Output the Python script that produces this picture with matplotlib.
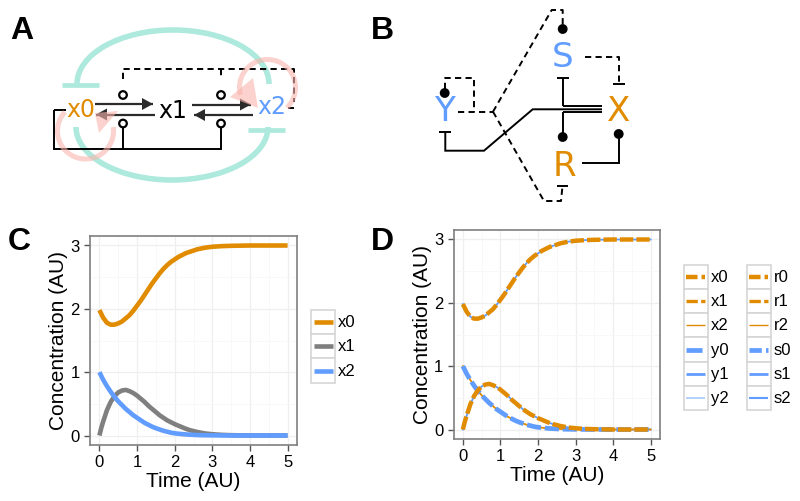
import matplotlib
matplotlib.use("Agg")
import matplotlib.pyplot as plt
from matplotlib.lines import Line2D
from matplotlib.patches import Arc, Circle, Polygon, Rectangle

plt.rcParams['font.family'] = ['Liberation Sans', 'DejaVu Sans']

ORANGE = '#E08B00'
BLUE = '#619CFF'
GREY = '#7F7F7F'
TEAL = '#AEE9DD'
PINK = '#F9B4AC'

time = [0, 0.05, 0.1, 0.2, 0.3, 0.4, 0.5, 0.6, 0.7, 0.8, 0.9, 1, 1.1, 1.2, 1.3, 1.4, 1.5, 1.6, 1.7, 1.8, 1.9, 2,
        2.1, 2.2, 2.3, 2.4, 2.5, 2.6, 2.8, 3, 3.25, 3.5, 4, 4.5, 5]
x0 = [1.98, 1.92, 1.86, 1.78, 1.75, 1.75, 1.77, 1.80, 1.85, 1.90, 1.97, 2.05, 2.13, 2.22, 2.31, 2.40, 2.48, 2.56, 2.63, 2.69, 2.74, 2.78,
      2.82, 2.85, 2.88, 2.90, 2.92, 2.94, 2.965, 2.98, 2.99, 2.995, 3, 3, 3]
x1 = [0, 0.12, 0.22, 0.40, 0.53, 0.62, 0.68, 0.71, 0.72, 0.70, 0.67, 0.63, 0.58, 0.53, 0.47, 0.42, 0.37, 0.32, 0.28, 0.24, 0.21, 0.18,
      0.155, 0.13, 0.105, 0.085, 0.07, 0.055, 0.033, 0.02, 0.01, 0.005, 0, 0, 0]
x2 = [1, 0.94, 0.88, 0.78, 0.69, 0.61, 0.54, 0.48, 0.42, 0.37, 0.32, 0.28, 0.24, 0.20, 0.17, 0.14, 0.115, 0.095, 0.075, 0.06, 0.045, 0.035,
      0.028, 0.022, 0.017, 0.013, 0.01, 0.007, 0.004, 0.002, 0.001, 0, 0, 0, 0]

legend_c = ['x0', 'x1', 'x2']
legend_d1 = ['x0', 'x1', 'x2', 'y0', 'y1', 'y2']
legend_d2 = ['r0', 'r1', 'r2', 's0', 's1', 's2']

# legend key styles for panel D: colour, width, dash
DASH_A = (0, (2.6, 0.9))
DASH_B = (0, (3.4, 1.0, 1.4, 1.0))
keys_d1 = [(ORANGE, 3.2, DASH_A), (ORANGE, 2.4, DASH_B), (ORANGE, 1.0, '-'),
           (BLUE, 3.4, DASH_B), (BLUE, 2.0, '-'), ('#A9C8FF', 1.2, '-')]
keys_d2 = [(ORANGE, 3.2, DASH_A), (ORANGE, 2.4, DASH_B), (ORANGE, 1.0, '-'),
           (BLUE, 3.4, DASH_A), (BLUE, 2.0, '-'), (BLUE, 1.5, '-')]

W, H = 800, 501


def panel(box, ylabel_x):
    # box is left, top, right, bottom in pixels
    l, t, r, b = box
    ax = fig.add_axes([l / W, 1 - b / H, (r - l) / W, (b - t) / H])
    ax.set_xlim(-0.25, 5.25)
    ax.set_ylim(-0.15, 3.15)
    ax.set_xticks(range(6))
    ax.set_yticks(range(4))
    ax.set_xticks([0.5, 1.5, 2.5, 3.5, 4.5], minor=True)
    ax.set_yticks([0.5, 1.5, 2.5], minor=True)
    ax.grid(True, which='major', color='#EFEFEF', lw=0.9)
    ax.grid(True, which='minor', color='#F7F7F7', lw=0.6)
    ax.set_axisbelow(True)
    ax.tick_params(which='minor', length=0)
    ax.tick_params(which='major', length=4.6, width=1, color='#555555', labelsize=12, pad=2.8)
    for s in ax.spines.values():
        s.set_color(GREY)
        s.set_linewidth(1.2)
    ax.set_xlabel('Time (AU)', fontsize=15, va='center')
    ax.set_ylabel('Concentration (AU)', fontsize=15, va='center')
    ax.xaxis.set_label_coords(0.5, -36.5 / (b - t))
    ax.yaxis.set_label_coords((ylabel_x - l) / (r - l), 0.5)
    return ax


def legend_column(labels, styles, left, top, row_h, width):
    for i, (name, st) in enumerate(zip(labels, styles)):
        y = top + i * row_h
        ov.add_patch(Rectangle((left, y), width, row_h, fc='white', ec='#D5D5D5', lw=1.2))
        ov.add_line(Line2D([left + 2.5, left + width - 2.5], [y + row_h / 2] * 2, color=st[0], lw=st[1],
                           ls=st[2], solid_capstyle='butt', dash_capstyle='butt'))
        ov.text(left + width + 3, y + row_h / 2 + 0.5, name, fontsize=12, va='center', ha='left')


def path(xs, ys, dashed=False, lw=1.4):
    ov.plot(xs, ys, color='black', lw=lw, ls=(0, (3.2, 2.2)) if dashed else '-',
            solid_capstyle='butt', dash_capstyle='butt', solid_joinstyle='miter')


def arrow(x_from, x_to, y):
    ov.plot([x_from, x_to], [y, y], color='#2B2B2B', lw=1.6, solid_capstyle='butt')
    d = 1 if x_to > x_from else -1
    ov.add_patch(Polygon([(x_to, y), (x_to - d * 11, y - 6), (x_to - d * 11, y + 6)], fc='#2B2B2B', ec='none'))


def sensor(x, y, filled=False):
    ov.add_patch(Circle((x, y), 3.8, fc='black' if filled else 'white', ec='black', lw=1.6, zorder=5))


fig = plt.figure(figsize=(8, 5.01), dpi=100)

# panel C
ax_c = panel((90, 236, 297, 445), 58.5)
ax_c.plot(time, x0, color=ORANGE, lw=3.3, solid_capstyle='butt')
ax_c.plot(time, x1, color=GREY, lw=3.3, solid_capstyle='butt')
ax_c.plot(time, x2, color=BLUE, lw=3.3, solid_capstyle='butt')

# panel D
ax_d = panel((453.5, 230, 660, 439), 422)
ax_d.plot(time, x0, color=BLUE, lw=1.3)
ax_d.plot(time, x1, color=BLUE, lw=1.3)
ax_d.plot(time, x2, color=ORANGE, lw=1.3)
ax_d.plot(time, x2, color=BLUE, lw=3.4, ls=(0, (3.0, 0.8)), dash_capstyle='butt')
ax_d.plot(time, x0, color=ORANGE, lw=3.2, ls=(0, (3.0, 0.7)), dash_capstyle='butt')
ax_d.plot(time, x1, color=ORANGE, lw=3.2, ls=(0, (3.0, 0.7)), dash_capstyle='butt')

# overlay in pixel coordinates for diagrams and legends
ov = fig.add_axes([0, 0, 1, 1], facecolor='none')
ov.set_xlim(0, W)
ov.set_ylim(H, 0)
ov.axis('off')

legend_column(legend_c, [(ORANGE, 3.3, '-'), (GREY, 3.3, '-'), (BLUE, 3.3, '-')], 311, 309.5, 24.4, 24)
legend_column(legend_d1, keys_d1, 683.7, 264.5, 24.3, 24)
legend_column(legend_d2, keys_d2, 746.7, 264.5, 24.3, 24)

for label, lx, ly in [('A', 10, 31), ('B', 371, 31), ('C', 8, 242), ('D', 371, 242)]:
    ov.text(lx, ly, label, fontsize=23, fontweight='bold', va='center', ha='left')

# panel A diagram
ov.add_patch(Arc((173, 84), 192, 108, theta1=180, theta2=360, ec=TEAL, lw=4))
ov.add_patch(Arc((172, 127), 192, 106, theta1=0, theta2=180, ec=TEAL, lw=4))
ov.plot([62, 99], [85, 85], color=TEAL, lw=3.4, solid_capstyle='butt')
ov.plot([248, 285], [130, 130], color=TEAL, lw=3.4, solid_capstyle='butt')

path([54, 66], [110, 110])
path([54, 54, 221, 221], [110, 149, 149, 127])
path([123, 123], [149, 127])
path([123, 123, 294, 294], [79, 69, 69, 102], dashed=True)
path([221, 221], [69, 79], dashed=True)
path([288, 294], [108, 108])
for sx in [123, 221]:
    sensor(sx, 95)
    sensor(sx, 123.5)
arrow(95, 153, 104)
arrow(155, 96, 114.5)
arrow(192, 251, 104.5)
arrow(253, 194, 115)

ov.add_patch(Arc((85.5, 131), 56, 56, theta1=-8, theta2=223, ec=PINK, lw=3.6, alpha=0.6, zorder=6))
ov.add_patch(Arc((267.5, 87.5), 56, 56, theta1=165, theta2=406, ec=PINK, lw=3.6, alpha=0.6, zorder=6))
ov.add_patch(Polygon([(118, 111), (95, 113), (99, 133)], fc=PINK, ec='none', alpha=0.6, zorder=6))
ov.add_patch(Polygon([(253, 78), (230, 97), (258, 108)], fc=PINK, ec='none', alpha=0.6, zorder=6))

for name, tx, ty, col in [('x0', 81, 110, ORANGE), ('x1', 173, 111, 'black'), ('x2', 272, 107, BLUE)]:
    ov.text(tx, ty, name, color=col, fontsize=17, family='DejaVu Sans', ha='center', va='center', zorder=7)

# panel B diagram
path([444.7, 444.7, 473.7, 473.7], [89, 78, 78, 111.5], dashed=True)
path([458, 493], [111.7, 111.7], dashed=True)
path([493, 551.7, 562.7, 562.7], [111.7, 10, 10, 25], dashed=True)
path([493, 544, 561, 562.3], [111.7, 201, 201, 188], dashed=True)
path([585, 618.7, 618.7], [56.7, 56.7, 83], dashed=True)
path([612.7, 625], [84.3, 84.3])
path([556.7, 568], [186, 186])
path([439.3, 451], [132, 132])
path([445.3, 445.3, 484, 532.7, 602], [132, 150.7, 150.7, 109.3, 109.3])
path([562.7, 602], [106.3, 106.3])
path([562.7, 602], [112.3, 112.3])
path([557.3, 568.7], [77.7, 77.7])
path([562.7, 562.7], [77.7, 106.3])
path([562.7, 562.7], [112.3, 137])
path([581.7, 618.7, 618.7], [163.3, 163.3, 134])
for dx, dy in [(562.7, 29), (444.7, 93), (562.7, 137), (618.7, 134)]:
    sensor(dx, dy, filled=True)

for name, tx, ty, col in [('S', 562.7, 57, BLUE), ('Y', 444.7, 111, BLUE), ('X', 618.7, 111, ORANGE), ('R', 564, 166, ORANGE)]:
    ov.text(tx, ty, name, color=col, fontsize=24.5, family='DejaVu Sans', ha='center', va='center', zorder=7)

fig.savefig('out.png', dpi=100)
